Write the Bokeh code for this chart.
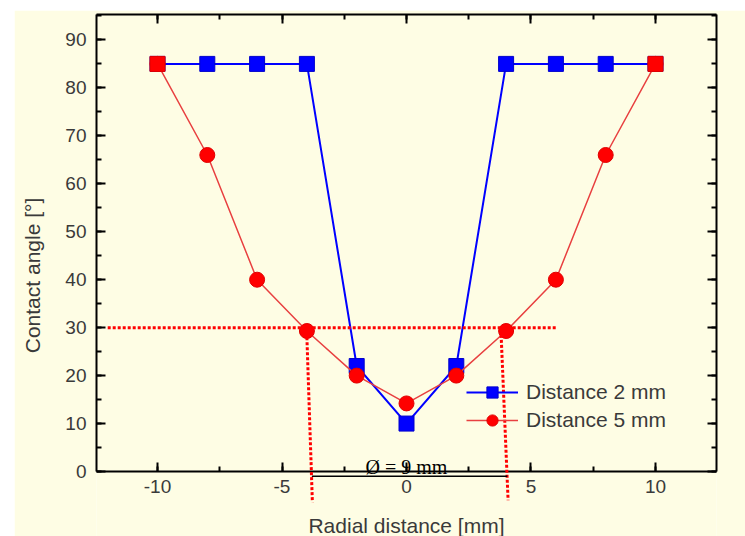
from bokeh.plotting import figure
from bokeh.models import (Range1d, LinearAxis, SingleIntervalTicker, Legend, LegendItem, Arrow,
                          Label, Spacer, PrintfTickFormatter)
from bokeh.layouts import column, row
from bokeh.embed import file_html
from bokeh.resources import INLINE

# ---- data ----
radial = [-10, -8, -6, -4, -2, 0, 2, 4, 6, 8, 10]
angle_2mm = [85, 85, 85, 85, 22, 10, 22, 85, 85, 85, 85]
angle_5mm = [85, 66, 40, 29.3, 20, 14.2, 20, 29.3, 40, 66, 85]
series_labels = ["Distance 2 mm", "Distance 5 mm"]
x_ticks_major = 5
y_ticks_major = 10

# annotation values (data units)
threshold_angle = 30
threshold_x_start, threshold_x_end = -12.0, 6.0
left_edge_top, left_edge_bottom = (-4.0, 28.0), (-3.78, -6.4)
right_edge_top, right_edge_bottom = (3.8, 28.5), (4.08, -6.0)
diameter_bar = (-3.8, 4.05, -1.0)
diameter_text = "Ø = 9 mm"

BG = "#fefde4"
TXT = "#3a3a3a"

p = figure(width=731, height=526, output_backend="svg", toolbar_location=None,
           x_range=Range1d(-12.45, 12.45), y_range=Range1d(-13.55, 95.3),
           background_fill_color=BG, border_fill_color=BG,
           min_border_left=82, min_border_right=29, min_border_top=4, min_border_bottom=0,
           x_axis_label="Radial distance [mm]", y_axis_label="Contact angle [°]")
p.xgrid.visible = False
p.ygrid.visible = False
p.outline_line_alpha = 0

bottom_ax = p.below[0]
left_ax = p.left[0]
bottom_ax.ticker = SingleIntervalTicker(interval=x_ticks_major, num_minor_ticks=2)
left_ax.ticker = SingleIntervalTicker(interval=y_ticks_major, num_minor_ticks=2)
bottom_ax.formatter = PrintfTickFormatter(format="%d")
left_ax.formatter = PrintfTickFormatter(format="%d")
bottom_ax.fixed_location = 0
left_ax.bounds = (0, 95.3)

top_ax = LinearAxis(ticker=SingleIntervalTicker(interval=x_ticks_major, num_minor_ticks=2))
right_ax = LinearAxis(ticker=SingleIntervalTicker(interval=y_ticks_major, num_minor_ticks=2),
                      bounds=(0, 95.3))
p.add_layout(top_ax, "above")
p.add_layout(right_ax, "right")

for ax in [bottom_ax, left_ax, top_ax, right_ax]:
    ax.axis_line_color = "black"
    ax.axis_line_width = 2
    ax.major_tick_line_color = "black"
    ax.minor_tick_line_color = "black"
    ax.major_tick_line_width = 2
    ax.minor_tick_line_width = 2
    ax.major_tick_in = 9
    ax.major_tick_out = 0
    ax.minor_tick_in = 5
    ax.minor_tick_out = 0
    ax.major_label_text_font = "Liberation Sans"
    ax.major_label_text_font_size = "19px"
    ax.major_label_text_color = TXT
    ax.axis_label_text_font = "Liberation Sans"
    ax.axis_label_text_font_size = "21px"
    ax.axis_label_text_font_style = "normal"
    ax.axis_label_text_color = TXT

for ax in [top_ax, right_ax]:
    ax.major_label_text_alpha = 0
    ax.major_label_text_font_size = "1px"
    ax.major_label_standoff = 0

bottom_ax.major_label_standoff = 8
left_ax.major_label_standoff = 10
bottom_ax.axis_label_standoff = 18
left_ax.axis_label_standoff = 18

# dotted guide lines
dot = dict(line_color="#ff0000", line_width=3, line_dash="3 2", start=None, end=None)
p.add_layout(Arrow(x_start=threshold_x_start, y_start=threshold_angle,
                   x_end=threshold_x_end, y_end=threshold_angle, **dot))
p.add_layout(Arrow(x_start=left_edge_top[0], y_start=left_edge_top[1],
                   x_end=left_edge_bottom[0], y_end=left_edge_bottom[1], **dot))
p.add_layout(Arrow(x_start=right_edge_top[0], y_start=right_edge_top[1],
                   x_end=right_edge_bottom[0], y_end=right_edge_bottom[1], **dot))
p.add_layout(Arrow(x_start=diameter_bar[0], y_start=diameter_bar[2],
                   x_end=diameter_bar[1], y_end=diameter_bar[2],
                   line_color="black", line_width=1.5, start=None, end=None))
p.add_layout(Label(x=0, y=1.0, text=diameter_text, text_align="center",
                   text_baseline="alphabetic", text_font="Liberation Serif",
                   text_font_size="20px", text_color="black"))

# series
l1 = p.line(radial, angle_2mm, line_color="#0000ff", line_width=2)
s1 = p.scatter(radial, angle_2mm, marker="square", size=15, fill_color="#0000ff", line_color="#0000cc")
l2 = p.line(radial, angle_5mm, line_color="#e84040", line_width=1.5)
s2 = p.scatter(radial, angle_5mm, marker="circle", size=15, fill_color="#ff0000", line_color="#e00000")
ends_x = [radial[0], radial[-1]]
ends_y = [angle_5mm[0], angle_5mm[-1]]
p.scatter(ends_x, ends_y, marker="square", size=15, fill_color="#ff0000", line_color="#e00000")

legend = Legend(items=[LegendItem(label=series_labels[0], renderers=[l1, s1]),
                       LegendItem(label=series_labels[1], renderers=[l2, s2])],
                location=(370, 102), background_fill_alpha=0, border_line_alpha=0,
                glyph_width=52, glyph_height=28, label_height=28, label_standoff=8,
                spacing=0, padding=0, margin=0,
                label_text_font="Liberation Sans", label_text_font_size="21px",
                label_text_color=TXT)
p.add_layout(legend)

layout = column(Spacer(height=10, width=745), row(Spacer(width=14, height=526), p))
open("out.html", "w").write(file_html(layout, INLINE))
